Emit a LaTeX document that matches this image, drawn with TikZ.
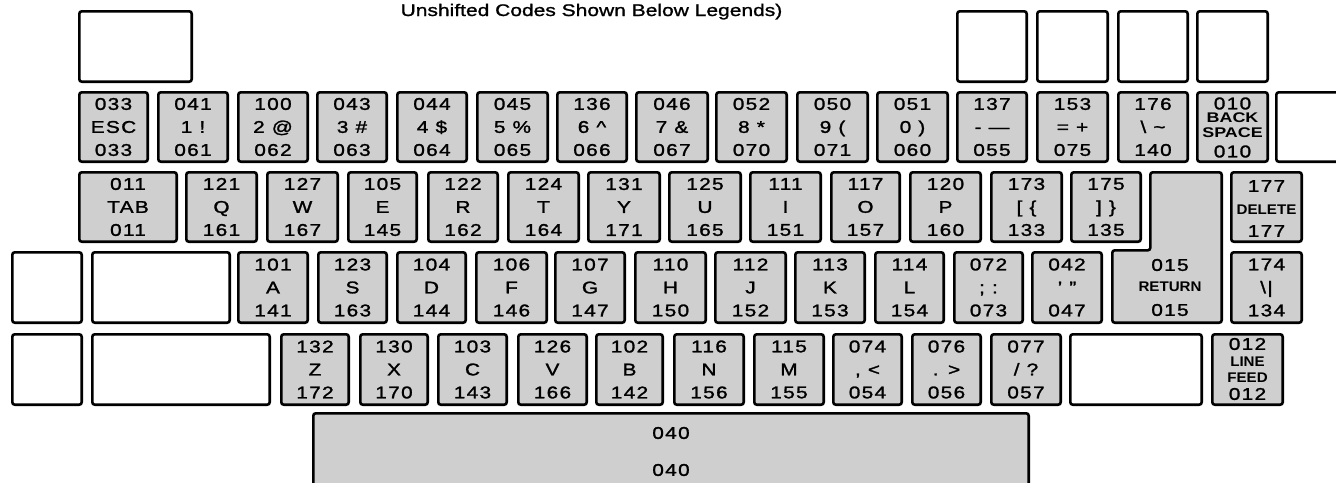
\documentclass[tikz,border=0pt]{standalone}
\usepackage{fontspec}
\setmainfont{Liberation Sans}
\newfontfamily\legendfont{Liberation Sans}[FakeStretch=1.22,LetterSpace=8,FakeBold=1.5]
\newfontfamily\titlefont{Liberation Sans}[FakeStretch=1.25,FakeBold=1.2]
\newfontfamily\tagfont{Liberation Sans}[FakeStretch=1.08]
\newfontfamily\widetagfont{Liberation Sans}[FakeStretch=1.28]
\definecolor{keygray}{gray}{0.81}
\tikzset{
  keycap/.style={draw=black, line width=2.6pt, fill=keygray, rounded corners=2.5pt, inner sep=0pt, outer sep=0pt},
  blankcap/.style={keycap, fill=white},
  legend/.style={font=\legendfont\fontsize{17}{23}\selectfont, align=center, inner sep=0pt, text=black},
  tag/.style={font=\tagfont\bfseries\fontsize{14}{15}\selectfont, inner sep=0pt},
  widetag/.style={font=\widetagfont\bfseries\fontsize{14}{15}\selectfont, inner sep=0pt},
  titletext/.style={font=\titlefont\fontsize{16.8}{18}\selectfont, inner sep=0pt, anchor=base},
}
\newcommand\kcap[6]{\node[keycap, legend, minimum width={#4-#2-2.6}, minimum height={#5-#3-2.6}] (#1) at ({(#2+#4)/2},{(#3+#5)/2}) {#6};}
\newcommand\kblank[5]{\node[blankcap, minimum width={#4-#2-2.6}, minimum height={#5-#3-2.6}] (#1) at ({(#2+#4)/2},{(#3+#5)/2}) {};}
\begin{document}
\begin{tikzpicture}[x=1pt,y=-1pt]
\useasboundingbox (0,0) rectangle (1336,482);
\clip (0,0) rectangle (1336,482);
\fill[white] (0,0) rectangle (1336,482);

% title
\node[titletext] (title) at (591.5,16) {Unshifted Codes Shown Below Legends)};

% top blank keys
\kblank{t1}{78}{10}{193}{83}
\kblank{t2}{956}{10}{1028}{83}
\kblank{t3}{1036}{10}{1109}{83}
\kblank{t4}{1117}{10}{1189}{83}
\kblank{t5}{1196}{10}{1269}{83}

% number row
\kcap{esc}{78}{91}{149}{163}{033\\ESC\\033}
\kcap{k1}{157}{91}{229}{163}{041\\1 !\\061}
\kcap{k2}{237}{91}{309}{163}{100\\2 @\\062}
\kcap{k3}{316}{91}{388}{163}{043\\3 \#\\063}
\kcap{k4}{396}{91}{468}{163}{044\\4 \$\\064}
\kcap{k5}{476}{91}{549}{163}{045\\5 \%\\065}
\kcap{k6}{556}{91}{628}{163}{136\\6 \textasciicircum\\066}
\kcap{k7}{635}{91}{709}{163}{046\\7 \&\\067}
\kcap{k8}{715}{91}{788}{163}{052\\8 *\\070}
\kcap{k9}{796}{91}{869}{163}{050\\9 (\\071}
\kcap{k0}{876}{91}{949}{163}{051\\0 )\\060}
\kcap{kminus}{956}{91}{1028}{163}{137\\- —\\055}
\kcap{kequal}{1036}{91}{1109}{163}{153\\= +\\075}
\kcap{ktilde}{1117}{91}{1189}{163}{176\\\textbackslash\ \textasciitilde\\140}
\kcap{kbs}{1196}{91}{1269}{163}{}
\node[legend] (bs1) at (1232.5,103.5) {010};
\node[widetag] (bs2) at (1232.5,118) {BACK};
\node[widetag] (bs3) at (1232.5,133) {SPACE};
\node[legend] (bs4) at (1232.5,151.5) {010};
\kblank{kright}{1275}{91}{1350}{163}

% qwerty row
\kcap{tab}{78}{171}{178}{243}{011\\TAB\\011}
\kcap{q}{185}{171}{258}{243}{121\\Q\\161}
\kcap{w}{266}{171}{339}{243}{127\\W\\167}
\kcap{e}{347}{171}{418}{243}{105\\E\\145}
\kcap{r}{427}{171}{499}{243}{122\\R\\162}
\kcap{t}{507}{171}{580}{243}{124\\T\\164}
\kcap{y}{587}{171}{661}{243}{131\\Y\\171}
\kcap{u}{668}{171}{742}{243}{125\\U\\165}
\kcap{i}{749}{171}{822}{243}{111\\I\\151}
\kcap{o}{830}{171}{901}{243}{117\\O\\157}
\kcap{p}{909}{171}{982}{243}{120\\P\\160}
\kcap{lbr}{990}{171}{1063}{243}{173\\{}[ \{\\133}
\kcap{rbr}{1070}{171}{1142}{243}{175\\{}] \}\\135}
\kcap{del}{1230}{171}{1303}{243}{}
\node[legend] (del1) at (1266.5,186) {177};
\node[tag] (del2) at (1266.5,210) {DELETE};
\node[legend] (del3) at (1266.5,231) {177};

% return key
\draw[keycap] (1150.3,172.3) -- (1221.7,172.3) -- (1221.7,322.7) -- (1112.3,322.7)
  -- (1112.3,250.3) -- (1150.3,250.3) -- cycle;
\node[legend] (ret1) at (1170,265) {015};
\node[tag] (ret2) at (1170,287) {RETURN};
\node[legend] (ret3) at (1170,310) {015};

% home row
\kblank{h1}{11}{251}{83}{324}
\kblank{h2}{91}{251}{231}{324}
\kcap{a}{237}{251}{309}{324}{101\\A\\141}
\kcap{s}{317}{251}{388}{324}{123\\S\\163}
\kcap{d}{396}{251}{467}{324}{104\\D\\144}
\kcap{f}{475}{251}{548}{324}{106\\F\\146}
\kcap{g}{554}{251}{626}{324}{107\\G\\147}
\kcap{h}{634}{251}{707}{324}{110\\H\\150}
\kcap{j}{714}{251}{787}{324}{112\\J\\152}
\kcap{k}{794}{251}{866}{324}{113\\K\\153}
\kcap{l}{874}{251}{945}{324}{114\\L\\154}
\kcap{semi}{953}{251}{1024}{324}{072\\; :\\073}
\kcap{quote}{1031}{251}{1103}{324}{042\\’ ”\\047}
\kcap{bslash}{1230}{251}{1303}{324}{174\\\textbackslash|\\134}

% bottom row
\kblank{b1}{11}{333}{83}{406}
\kblank{b2}{91}{333}{271}{406}
\kcap{z}{280}{333}{350}{406}{132\\Z\\172}
\kcap{x}{359}{333}{429}{406}{130\\X\\170}
\kcap{c}{437}{333}{508}{406}{103\\C\\143}
\kcap{v}{517}{333}{588}{406}{126\\V\\166}
\kcap{b}{595}{333}{664}{406}{102\\B\\142}
\kcap{n}{673}{333}{745}{406}{116\\N\\156}
\kcap{m}{753}{333}{825}{406}{115\\M\\155}
\kcap{comma}{832}{333}{903}{406}{074\\, <\\054}
\kcap{period}{911}{333}{982}{406}{076\\. >\\056}
\kcap{slash}{990}{333}{1062}{406}{077\\/ ?\\057}
\kblank{b3}{1069}{333}{1203}{406}
\kcap{lf}{1211}{333}{1284}{406}{}
\node[legend] (lf1) at (1247.5,344) {012};
\node[tag] (lf2) at (1247.5,362) {LINE};
\node[tag] (lf3) at (1247.5,378) {FEED};
\node[legend] (lf4) at (1247.5,394) {012};

% space bar
\node[keycap, minimum width=715.4, minimum height=120] (space) at (671,473.3) {};
\node[legend] (sp1) at (671,433) {040};
\node[legend] (sp2) at (671,470) {040};
\end{tikzpicture}
\end{document}
